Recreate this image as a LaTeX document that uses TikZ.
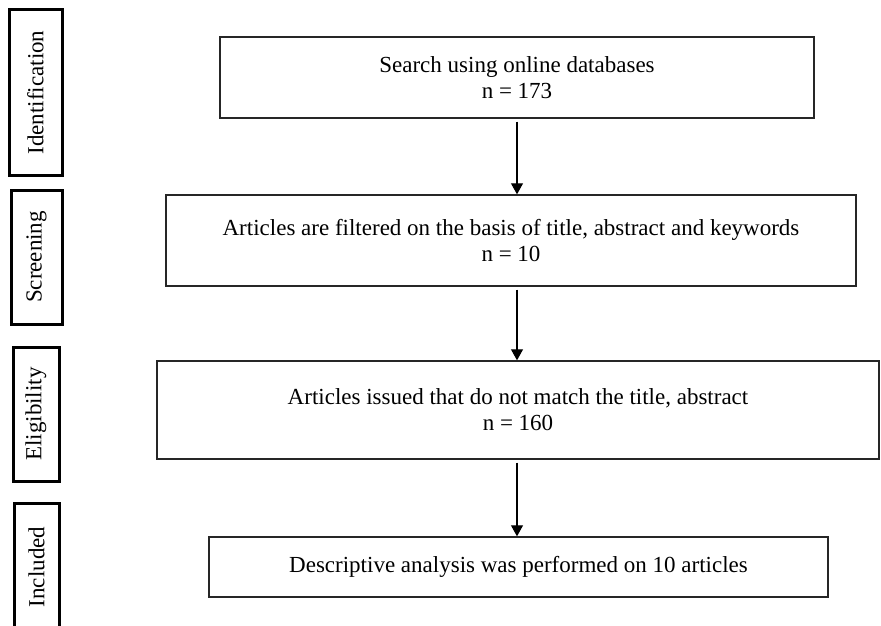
\documentclass[tikz,border=0pt]{standalone}
\usepackage{fontspec}
\setmainfont{Liberation Serif}
\usetikzlibrary{arrows.meta}
\tikzset{
    stage/.style={draw=black!85,line width=1.4pt,inner sep=0pt,align=center,font=\fontsize{23}{26}\selectfont},
    phase/.style={draw=black,line width=3pt,inner sep=0pt,rotate=90,font=\fontsize{23}{26}\selectfont},
    flow/.style={-{Triangle[length=11pt,width=12pt]},line width=1.1pt,shorten <=3pt}
}
\begin{document}
\begin{tikzpicture}[x=1pt,y=-1pt]
                \useasboundingbox (0,0) rectangle (881,626);
                \clip (0,0) rectangle (881,626);
                \node[phase,minimum width=165pt,minimum height=53pt] (ident) at (35.5,92.5) {Identification};
                \node[phase,minimum width=134pt,minimum height=51pt] (screening) at (36.5,257) {Screening};
                \node[phase,minimum width=134pt,minimum height=46pt] (eligible) at (36,414) {Eligibility};
                \node[phase,minimum width=128pt,minimum height=45pt] (included) at (36.5,567) {Included};
                \node[stage,minimum width=594pt,minimum height=81pt] (search) at (517,77.5) {Search using online databases\\n = 173};
                \node[stage,minimum width=690pt,minimum height=91pt] (filter) at (511,240.5) {Articles are filtered on the basis of title, abstract and keywords\\n = 10};
                \node[stage,minimum width=722pt,minimum height=98pt] (issued) at (518,410) {Articles issued that do not match the title, abstract\\n = 160};
                \node[stage,minimum width=619pt,minimum height=60pt] (analysis) at (518.5,567) {Descriptive analysis was performed on 10 articles};
                \draw[flow] (search.south) -- (search.south |- filter.north);
                \draw[flow] (search.south |- filter.south) -- (search.south |- issued.north);
                \draw[flow] (search.south |- issued.south) -- (search.south |- analysis.north);
\end{tikzpicture}
\end{document}
